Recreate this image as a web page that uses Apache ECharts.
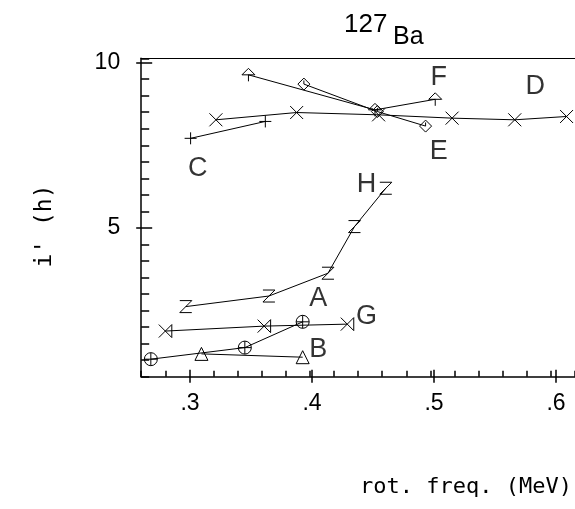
<!DOCTYPE html>
<html>
<head>
<meta charset="utf-8">
<script src="https://cdn.jsdelivr.net/npm/echarts@6/dist/echarts.min.js"></script>
<style>
  html, body { margin: 0; padding: 0; background: #fff; }
  #chart { width: 575px; height: 509px; }
</style>
</head>
<body>
<div id="chart"></div>
<script>
// Aligned angular momentum i' (hbar) versus rotational frequency (MeV) for bands in 127Ba
const bandA = [[0.268, 1.03], [0.346, 1.38], [0.394, 2.16]];
const bandB = [[0.310, 1.19], [0.394, 1.09]];
const bandC = [[0.301, 7.71], [0.363, 8.22]];
const bandD = [[0.322, 8.27], [0.389, 8.49], [0.457, 8.42], [0.518, 8.32], [0.570, 8.27], [0.613, 8.37]];
const bandE = [[0.395, 9.35], [0.456, 8.52], [0.496, 8.08]];
const bandF = [[0.349, 9.63], [0.454, 8.57], [0.504, 8.89]];
const bandG = [[0.280, 1.88], [0.362, 2.03], [0.431, 2.09]];
const bandH = [[0.297, 2.62], [0.366, 2.94], [0.415, 3.63], [0.437, 5.04], [0.463, 6.20]];

// band letters placed in data coordinates
const bandLabels = [
  ['A', 0.407, 2.85], ['B', 0.407, 1.31], ['C', 0.307, 6.81], ['D', 0.587, 9.27],
  ['E', 0.507, 7.31], ['F', 0.507, 9.55], ['G', 0.447, 2.31], ['H', 0.447, 6.30]
];

// axis ranges and tick steps
const X_MIN = 0.26, X_MAX = 0.62, X_MINOR = 0.02;
const X_MAJOR_MIN = 0.3, X_MAJOR_MAX = 0.6, X_MAJOR = 0.1;
const xTickLabels = ['.3', '.4', '.5', '.6'];
const Y_MIN = 0.5, Y_MAX = 10.13, Y_MINOR = 0.5;
const Y_MAJOR_MIN = 5, Y_MAJOR_MAX = 10, Y_MAJOR = 5;
const yTickLabels = ['5', '10'];

const INK = '#000';
const NUM_FONT = 'Liberation Sans';
const TITLE_FONT = 'DejaVu Sans Mono';

// open marker outlines
const markers = {
  A: 'path://M0,5A5,5,0,1,1,10,5A5,5,0,1,1,0,5ZM0,5L10,5M5,0L5,10',
  B: 'path://M5,0L10,9L0,9Z',
  C: 'path://M0,5L10,5M5,0L5,10',
  D: 'path://M0,0L10,10M10,0L0,10',
  E: 'path://M5,0L10,5L5,10L0,5ZM5,2L5,5',
  F: 'path://M5,0L10,5L0,5ZM5,5L5,10',
  G: 'path://M0,0L10,10M10,0L0,10M10,0L10,10',
  H: 'path://M0,0L10,0L0,10L10,10'
};

function band(name, data, size) {
  return {
    name: name,
    type: 'line',
    data: data,
    symbol: markers[name],
    symbolSize: size || 12,
    showAllSymbol: true,
    lineStyle: { color: INK, width: 1 },
    itemStyle: { color: 'rgba(0,0,0,0)', borderColor: INK, borderWidth: 1 },
    emphasis: { disabled: true },
    z: 3
  };
}

function labelFor(texts, start, step) {
  return function (v) {
    const i = Math.round((v - start) / step);
    return (i >= 0 && i < texts.length && Math.abs(start + i * step - v) < 1e-6) ? texts[i] : '';
  };
}

// plot area and its pixel scale
const PLOT = { left: 141.2, top: 58.3, width: 439.2, height: 318.4 };
const pxPerX = PLOT.width / (X_MAX - X_MIN);
const pxPerY = PLOT.height / (Y_MAX - Y_MIN);

// helper areas sharing the plot's scale but spanning only the labelled range,
// so the long ticks land on the round values
const areaYMajor = {
  left: PLOT.left, width: PLOT.width,
  top: PLOT.top + (Y_MAX - Y_MAJOR_MAX) * pxPerY,
  height: (Y_MAJOR_MAX - Y_MAJOR_MIN) * pxPerY
};
const areaXMajor = {
  left: PLOT.left + (X_MAJOR_MIN - X_MIN) * pxPerX,
  width: (X_MAJOR_MAX - X_MAJOR_MIN) * pxPerX,
  top: PLOT.top, height: PLOT.height
};

function hiddenAxis(gridIndex) {
  return { gridIndex: gridIndex, type: 'value', show: false, min: 0, max: 1 };
}

const option = {
  animation: false,
  backgroundColor: '#fff',
  title: [
    { text: '127', left: 339, top: 7,
      textStyle: { fontFamily: NUM_FONT, fontSize: 26, fontWeight: 'normal', color: INK } },
    { text: 'Ba', left: 388, top: 20,
      textStyle: { fontFamily: NUM_FONT, fontSize: 25, fontWeight: 'normal', color: INK } }
  ],
  grid: [
    Object.assign({}, PLOT),        // 0: data area
    Object.assign({}, areaYMajor),  // 1: y labels, inner long ticks
    Object.assign({}, areaXMajor),  // 2: x labels, inner long ticks
    Object.assign({}, areaYMajor),  // 3: y outer long ticks
    Object.assign({}, areaXMajor)   // 4: x outer long ticks
  ],
  xAxis: [
    { // main x axis with the small ticks
      gridIndex: 0, type: 'value', min: X_MIN, max: X_MAX, interval: X_MINOR,
      position: 'bottom', splitLine: { show: false },
      axisLine: { show: true, lineStyle: { color: INK, width: 1.5 } },
      axisTick: { show: true, inside: true, length: 6, lineStyle: { color: INK, width: 1.5 } },
      axisLabel: { show: false }
    },
    { // upper frame line
      gridIndex: 0, type: 'value', min: X_MIN, max: X_MAX,
      position: 'top', splitLine: { show: false },
      axisLine: { show: true, lineStyle: { color: INK, width: 1.2 } },
      axisTick: { show: false }, axisLabel: { show: false }
    },
    hiddenAxis(1),
    { // labelled ticks, inner half
      gridIndex: 2, type: 'value', min: X_MAJOR_MIN, max: X_MAJOR_MAX, interval: X_MAJOR,
      position: 'bottom', splitLine: { show: false },
      axisLine: { show: false },
      axisTick: { show: true, inside: true, length: 7, lineStyle: { color: INK, width: 1.5 } },
      axisLabel: {
        show: true, margin: 15,
        fontFamily: NUM_FONT, fontSize: 23, color: INK,
        formatter: labelFor(xTickLabels, X_MAJOR_MIN, X_MAJOR)
      }
    },
    hiddenAxis(3),
    { // labelled ticks, outer half
      gridIndex: 4, type: 'value', min: X_MAJOR_MIN, max: X_MAJOR_MAX, interval: X_MAJOR,
      position: 'bottom', splitLine: { show: false },
      axisLine: { show: false },
      axisTick: { show: true, inside: false, length: 6, lineStyle: { color: INK, width: 1.5 } },
      axisLabel: { show: false }
    }
  ],
  yAxis: [
    { // main y axis with the small ticks
      gridIndex: 0, type: 'value', min: Y_MIN, max: Y_MAX, interval: Y_MINOR,
      position: 'left', splitLine: { show: false },
      axisLine: { show: true, lineStyle: { color: INK, width: 1.5 } },
      axisTick: { show: true, inside: true, length: 8, lineStyle: { color: INK, width: 1.5 } },
      axisLabel: { show: false }
    },
    { // labelled ticks, inner half
      gridIndex: 1, type: 'value', min: Y_MAJOR_MIN, max: Y_MAJOR_MAX, interval: Y_MAJOR,
      position: 'left', splitLine: { show: false },
      axisLine: { show: false },
      axisTick: { show: true, inside: true, length: 11, lineStyle: { color: INK, width: 1.5 } },
      axisLabel: {
        show: true, margin: 21,
        fontFamily: NUM_FONT, fontSize: 23, color: INK,
        formatter: labelFor(yTickLabels, Y_MAJOR_MIN, Y_MAJOR)
      }
    },
    hiddenAxis(2),
    { // labelled ticks, outer half
      gridIndex: 3, type: 'value', min: Y_MAJOR_MIN, max: Y_MAJOR_MAX, interval: Y_MAJOR,
      position: 'left', splitLine: { show: false },
      axisLine: { show: false },
      axisTick: { show: true, inside: false, length: 5, lineStyle: { color: INK, width: 1.5 } },
      axisLabel: { show: false }
    },
    hiddenAxis(4)
  ],
  graphic: [
    {
      type: 'text', x: 572, y: 487,
      style: { text: 'rot. freq. (MeV)', align: 'right', verticalAlign: 'middle',
        fontFamily: TITLE_FONT, fontSize: 22, fill: INK }
    },
    {
      type: 'text', x: 45, y: 226, rotation: Math.PI / 2,
      style: { text: "i' (h)", align: 'center', verticalAlign: 'middle',
        fontFamily: TITLE_FONT, fontSize: 23, fill: INK }
    }
  ],
  series: [
    band('A', bandA, 13),
    band('B', bandB, 13),
    band('C', bandC, 12),
    band('D', bandD, 13),
    band('E', bandE, 12),
    band('F', bandF, 13),
    band('G', bandG, 13),
    band('H', bandH, 12),
    {
      name: 'labels',
      type: 'scatter',
      symbolSize: 0,
      data: bandLabels.map(function (d) { return { name: d[0], value: [d[1], d[2]] }; }),
      label: {
        show: true, position: 'inside', formatter: '{b}',
        fontFamily: NUM_FONT, fontSize: 27, color: INK
      },
      emphasis: { disabled: true },
      silent: true,
      z: 4
    }
  ]
};

const chart = echarts.init(document.getElementById('chart'), null, { renderer: 'canvas' });
chart.setOption(option);
</script>
</body>
</html>
